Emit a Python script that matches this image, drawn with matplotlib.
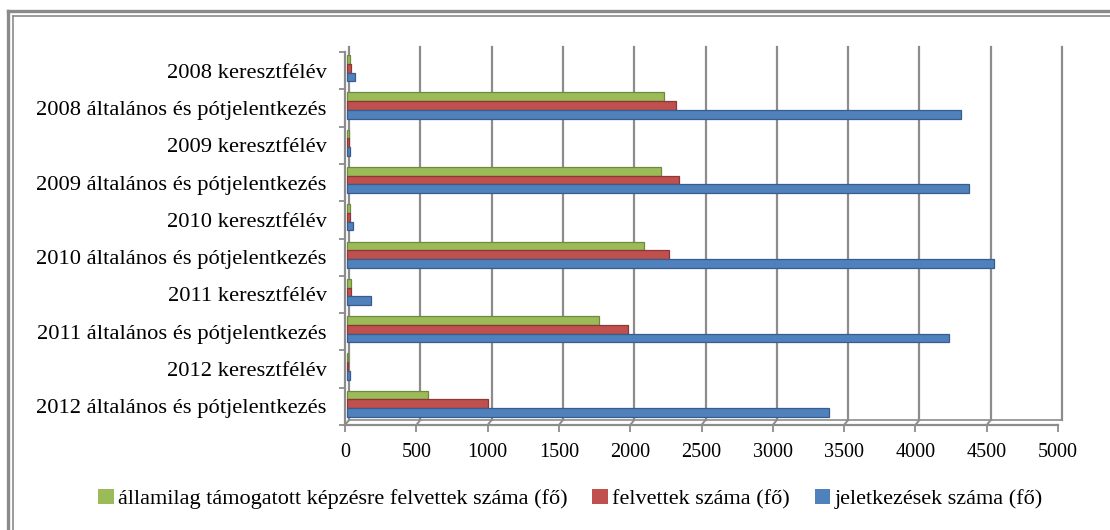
import matplotlib
matplotlib.use("Agg")
import matplotlib.pyplot as plt
from matplotlib.transforms import offset_copy
from matplotlib.patches import Patch
from matplotlib.lines import Line2D

# Categories listed top to bottom
categories = [
    "2008 keresztfélév",
    "2008 általános és pótjelentkezés",
    "2009 keresztfélév",
    "2009 általános és pótjelentkezés",
    "2010 keresztfélév",
    "2010 általános és pótjelentkezés",
    "2011 keresztfélév",
    "2011 általános és pótjelentkezés",
    "2012 keresztfélév",
    "2012 általános és pótjelentkezés",
]

series_names = [
    "államilag támogatott képzésre felvettek száma (fő)",
    "felvettek száma (fő)",
    "jeletkezések száma (fő)",
]

allami = [20, 2225, 12, 2205, 20, 2085, 30, 1770, 8, 570]
felvettek = [25, 2305, 14, 2325, 22, 2260, 30, 1970, 10, 990]
jelentkezes = [55, 4305, 20, 4360, 45, 4535, 170, 4225, 18, 3380]

x_ticks = [0, 500, 1000, 1500, 2000, 2500, 3000, 3500, 4000, 4500, 5000]

colors = ["#9BBB59", "#C0504D", "#4F81BD"]
edges = ["#71893F", "#8C3836", "#385D8A"]
grid_color = "#8c8c8c"

plt.rcParams["font.family"] = ["Liberation Serif", "DejaVu Serif"]
FS_Y = 16.2
FS_X = 14.5
FS_LEG = 16

W, H = 1110, 530
fig = plt.figure(figsize=(W / 100, H / 100), dpi=100)

# front plane of the pseudo-3D plot area, in pixels
left_px, right_px, top_px, bottom_px = 345, 1058, 52, 425
ax = fig.add_axes([left_px / W, (H - bottom_px) / H,
                   (right_px - left_px) / W, (bottom_px - top_px) / H])
n = len(categories)
ax.set_xlim(0, 5000)
ax.set_ylim(n, 0)
for s in ax.spines.values():
    s.set_visible(False)

# depth offsets (back wall and middle of the bars)
back = offset_copy(ax.transData, fig=fig, x=4, y=5, units="dots")
mid = offset_copy(ax.transData, fig=fig, x=2, y=2.5, units="dots")

# back wall gridlines
for t in x_ticks:
    ax.plot([t, t], [0, n], color=grid_color, lw=1.6, transform=back,
            clip_on=False, zorder=1)
# diagonals connecting back floor to front floor
for t in x_ticks:
    p_back = back.transform((t, n))
    p_front = ax.transData.transform((t, n))
    ax.add_line(Line2D([p_back[0], p_front[0]], [p_back[1], p_front[1]],
                       transform=None, color=grid_color, lw=1.4, zorder=1))
# floor back edge
ax.plot([0, 5000], [n, n], color=grid_color, lw=1.2, transform=back,
        clip_on=False, zorder=1)
# left wall top diagonal
pb = back.transform((0, 0))
pf = ax.transData.transform((0, 0))
ax.add_line(Line2D([pb[0], pf[0]], [pb[1], pf[1]], transform=None,
                   color=grid_color, lw=1.4, zorder=1))

# bars
h = 0.235
offsets = [-h, 0.0, h]
for vals, off, c, ec in zip([allami, felvettek, jelentkezes], offsets, colors, edges):
    ys = [i + 0.5 + off for i in range(n)]
    ax.barh(ys, vals, height=h, color=c, edgecolor=ec, linewidth=0.9,
            transform=mid, clip_on=False, zorder=3)

# front axes lines
ax.plot([0, 0], [0, n], color=grid_color, lw=1.6, clip_on=False, zorder=4)
ax.plot([0, 5000], [n, n], color=grid_color, lw=1.6, clip_on=False, zorder=4)

ax.set_xticks(x_ticks)
ax.set_xticklabels([str(t) for t in x_ticks], fontsize=FS_X)
ax.set_yticks(range(n + 1))
ax.set_yticklabels([])
ax.set_yticks([i + 0.5 for i in range(n)], minor=True)
ax.set_yticklabels(categories, minor=True, fontsize=FS_Y)
ax.tick_params(axis="y", which="minor", length=0, pad=13)
ax.tick_params(axis="y", which="major", length=4, color=grid_color, width=1.3)
ax.tick_params(axis="x", length=5, color=grid_color, width=1.3, pad=8)
ax.grid(False)

# legend
handles = [Patch(facecolor=c, edgecolor="none") for c in colors]
fig.legend(handles, series_names, loc="center", bbox_to_anchor=(0.514, 1 - 499 / H),
           ncol=3, frameon=False, fontsize=FS_LEG, handlelength=0.7, handleheight=0.7,
           handletextpad=0.2, columnspacing=1.1)

# double frame around the chart
frame = "#8a8a8a"
fig.add_artist(Line2D([7.5 / W, 1], [1 - 11 / H, 1 - 11 / H], color=frame, lw=2.4))
fig.add_artist(Line2D([7.5 / W, 7.5 / W], [0, 1 - 11 / H], color=frame, lw=2.4))
fig.add_artist(Line2D([12.5 / W, 1], [1 - 16 / H, 1 - 16 / H], color=frame, lw=1.2))
fig.add_artist(Line2D([12.5 / W, 12.5 / W], [0, 1 - 16 / H], color=frame, lw=1.2))

fig.savefig("out.png", dpi=100)
